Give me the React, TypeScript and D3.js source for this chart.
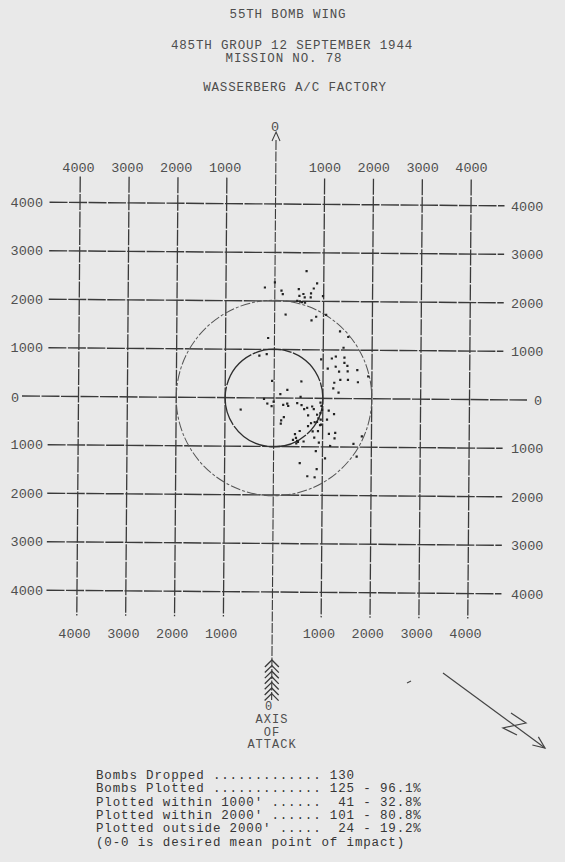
import { scaleLinear } from 'd3';

// typed bombing plot, 55th Bomb Wing
const titleLines = ['55TH BOMB WING', '485TH GROUP 12 SEPTEMBER 1944', 'MISSION NO. 78', 'WASSERBERG A/C FACTORY'];

const gridValues = [-4000, -3000, -2000, -1000, 1000, 2000, 3000, 4000];
const tickLabels = ['4000', '3000', '2000', '1000', '1000', '2000', '3000', '4000'];
const circleRadii = [1000, 2000];

// bomb impacts in feet from aiming point (x right, y up)
const bombs: [number, number][] = [
  [646, 2622], [-204, 2277], [0, 2385], [136, 2216], [163, 2142], [490, 2250], [585, 2149],
  [503, 2108], [612, 2081], [741, 2162], [796, 2264], [864, 2372], [735, 2081], [986, 2108],
  [460, 2007], [520, 1990], [560, 1980], [620, 1970], [224, 1723], [850, 1682], [755, 1608],
  [1054, 1723], [1340, 1385], [1510, 1270], [-129, 1236], [1415, 1047], [-306, 872], [-156, 905],
  [959, 804], [1177, 824], [1258, 865], [1435, 845], [1435, 736], [1095, 615], [1258, 655],
  [1327, 554], [1497, 676], [1503, 561], [1700, 588], [1925, 459], [1354, 385], [1510, 385],
  [1231, 324], [1211, 209], [1320, 122], [1714, 338], [-41, 351], [558, 345], [272, 169],
  [129, 81], [544, 27], [-204, -20], [-136, -115], [-48, -169], [-7, -74], [190, -142],
  [272, -115], [292, -162], [476, -101], [565, -142], [619, -223], [680, -196], [782, -169],
  [816, -223], [952, -88], [973, -155], [986, -236], [1122, -250], [1231, -324], [1088, -439],
  [884, -338], [912, -412], [837, -493], [762, -514], [701, -574], [884, -486], [946, -554],
  [701, -351], [796, -682], [905, -676], [966, -540], [959, -439], [952, -304], [204, -392],
  [150, -459], [143, -527], [-680, -243], [531, -676], [435, -743], [456, -818], [497, -899],
  [463, -932], [612, -892], [830, -811], [925, -912], [1129, -730], [1258, -709], [1245, -824],
  [1156, -980], [1633, -932], [1803, -777], [1700, -1196], [864, -1088], [1054, -1236],
  [537, -1338], [884, -1459], [694, -1608], [843, -1628], [395, -860], [480, -880],
];

const statLines = [
  "Bombs Dropped ............. 130",
  "Bombs Plotted ............. 125 - 96.1%",
  "Plotted within 1000' ......  41 - 32.8%",
  "Plotted within 2000' ...... 101 - 80.8%",
  "Plotted outside 2000' .....  24 - 19.2%",
  "(0-0 is desired mean point of impact)",
];

const attackLabel = ['AXIS', 'OF', 'ATTACK'];
const featherSteps = [0, 1, 2, 3, 4, 5, 6];

const W = 565;
const H = 862;
const FONT = "'Liberation Mono', 'DejaVu Sans Mono', monospace";
const INK = '#3a3a3a';

export default function App() {
  const x = scaleLinear().domain([-4000, 4000]).range([78.5, 469.5]);
  const y = scaleLinear().domain([-4000, 4000]).range([592, 204]);
  const cx = x(0);
  const cy = y(0);
  const unit = x(1000) - x(0);

  const gridLeft = 48;
  const gridRight = 503;
  const gridTop = 178;
  const gridBottom = 617;

  const tip = { x: 545, y: 748 };
  const tail = { x: 443, y: 673 };
  const ang = Math.atan2(tip.y - tail.y, tip.x - tail.x);
  const head = (d: number) =>
    `${tip.x - 13 * Math.cos(ang + d)},${tip.y - 13 * Math.sin(ang + d)}`;

  return (
    <div style={{ position: 'fixed', left: 0, top: 0 }}>
      <svg width={W} height={H} style={{ display: 'block', background: '#e9e9e9' }}>
        <g fontFamily={FONT} fill="#4d4d4d" fontSize={12.5} letterSpacing={0.85} textAnchor="middle">
          <text x={288} y={18}>{titleLines[0]}</text>
          <text x={292} y={49}>{titleLines[1]}</text>
          <text x={284} y={62}>{titleLines[2]}</text>
          <text x={295} y={91}>{titleLines[3]}</text>
        </g>

        <g transform={`rotate(0.45, ${cx}, ${cy})`} stroke={INK} fill="none">
          {gridValues.map((v) => (
            <line key={`h${v}`} x1={gridLeft} x2={gridRight} y1={y(v)} y2={y(v)} strokeWidth={1.4} strokeDasharray="18 1.5" />
          ))}
          {gridValues.map((v) => (
            <line key={`v${v}`} x1={x(v)} x2={x(v)} y1={gridTop} y2={gridBottom} strokeWidth={1.3} strokeDasharray="16 1.5" />
          ))}
          <line x1={22} x2={527} y1={cy} y2={cy} strokeWidth={1.4} strokeDasharray="18 1.5" />
          <line x1={cx} x2={cx} y1={140} y2={700} strokeWidth={1.1} strokeDasharray="10 1.5" />
          <path d={`M${cx - 4},${141} L${cx},${132} L${cx + 4},${141}`} strokeWidth={1} />

          <circle cx={cx} cy={cy} r={circleRadii[1] / 1000 * unit} stroke="#555" strokeWidth={1} strokeDasharray="10 2 3 2" />
          <circle cx={cx} cy={cy} r={circleRadii[0] / 1000 * unit} stroke="#2e2e2e" strokeWidth={1.3} strokeDasharray="40 1.5" />

          {featherSteps.map((i) => {
            const fy = 660 + i * 5.6;
            return <path key={i} d={`M${cx - 7},${fy + 7} L${cx},${fy} L${cx + 7},${fy + 7}`} strokeWidth={1.3} />;
          })}

          {bombs.map(([bx, by], i) => (
            <rect key={i} x={x(bx) - 1.1} y={y(by) - 1.1} width={2.2} height={2.2} fill="#222" stroke="none" />
          ))}
        </g>

        <g fontFamily={FONT} fill="#4f4f4f" fontSize={13.5}>
          {tickLabels.map((t, i) => (
            <text key={`t${i}`} x={x(gridValues[i]) + (i < 4 ? 0 : 2)} y={172} textAnchor="middle">{t}</text>
          ))}
          {tickLabels.map((t, i) => (
            <text key={`b${i}`} x={x(gridValues[i]) - 4} y={638} textAnchor="middle">{t}</text>
          ))}
          {[...gridValues].reverse().map((v, i) => (
            <text key={`l${i}`} x={43} y={y(v) + 4 - 1.2} textAnchor="end">{String(Math.abs(v))}</text>
          ))}
          {[...gridValues].reverse().map((v, i) => (
            <text key={`r${i}`} x={511} y={y(v) + 4 + 2.5}>{String(Math.abs(v))}</text>
          ))}
          <text x={11} y={cy + 4}>0</text>
          <text x={534} y={cy + 7}>0</text>
          <text x={275} y={131} textAnchor="middle">0</text>
        </g>

        <g fontFamily={FONT} fill="#4f4f4f" fontSize={12} letterSpacing={1} textAnchor="middle">
          <text x={269} y={710}>0</text>
          {attackLabel.map((t, i) => (
            <text key={t} x={272} y={723 + i * 12.5}>{t}</text>
          ))}
        </g>

        <g stroke="#444" fill="none" strokeWidth={1.2}>
          <line x1={tail.x} y1={tail.y} x2={tip.x} y2={tip.y} />
          <polyline points={`${head(0.4)} ${tip.x},${tip.y} ${head(-0.4)}`} />
          <polyline points="511,713 526,723 503,728 517,735" />
          <line x1={407} y1={683} x2={411} y2={681} />
        </g>

        <g fontFamily={FONT} fill="#363636" fontSize={12.5} letterSpacing={0.85}>
          {statLines.map((s, i) => (
            <text key={i} x={96} y={779 + i * 13.3} style={{ whiteSpace: 'pre' }}>{s}</text>
          ))}
        </g>
      </svg>
    </div>
  );
}
